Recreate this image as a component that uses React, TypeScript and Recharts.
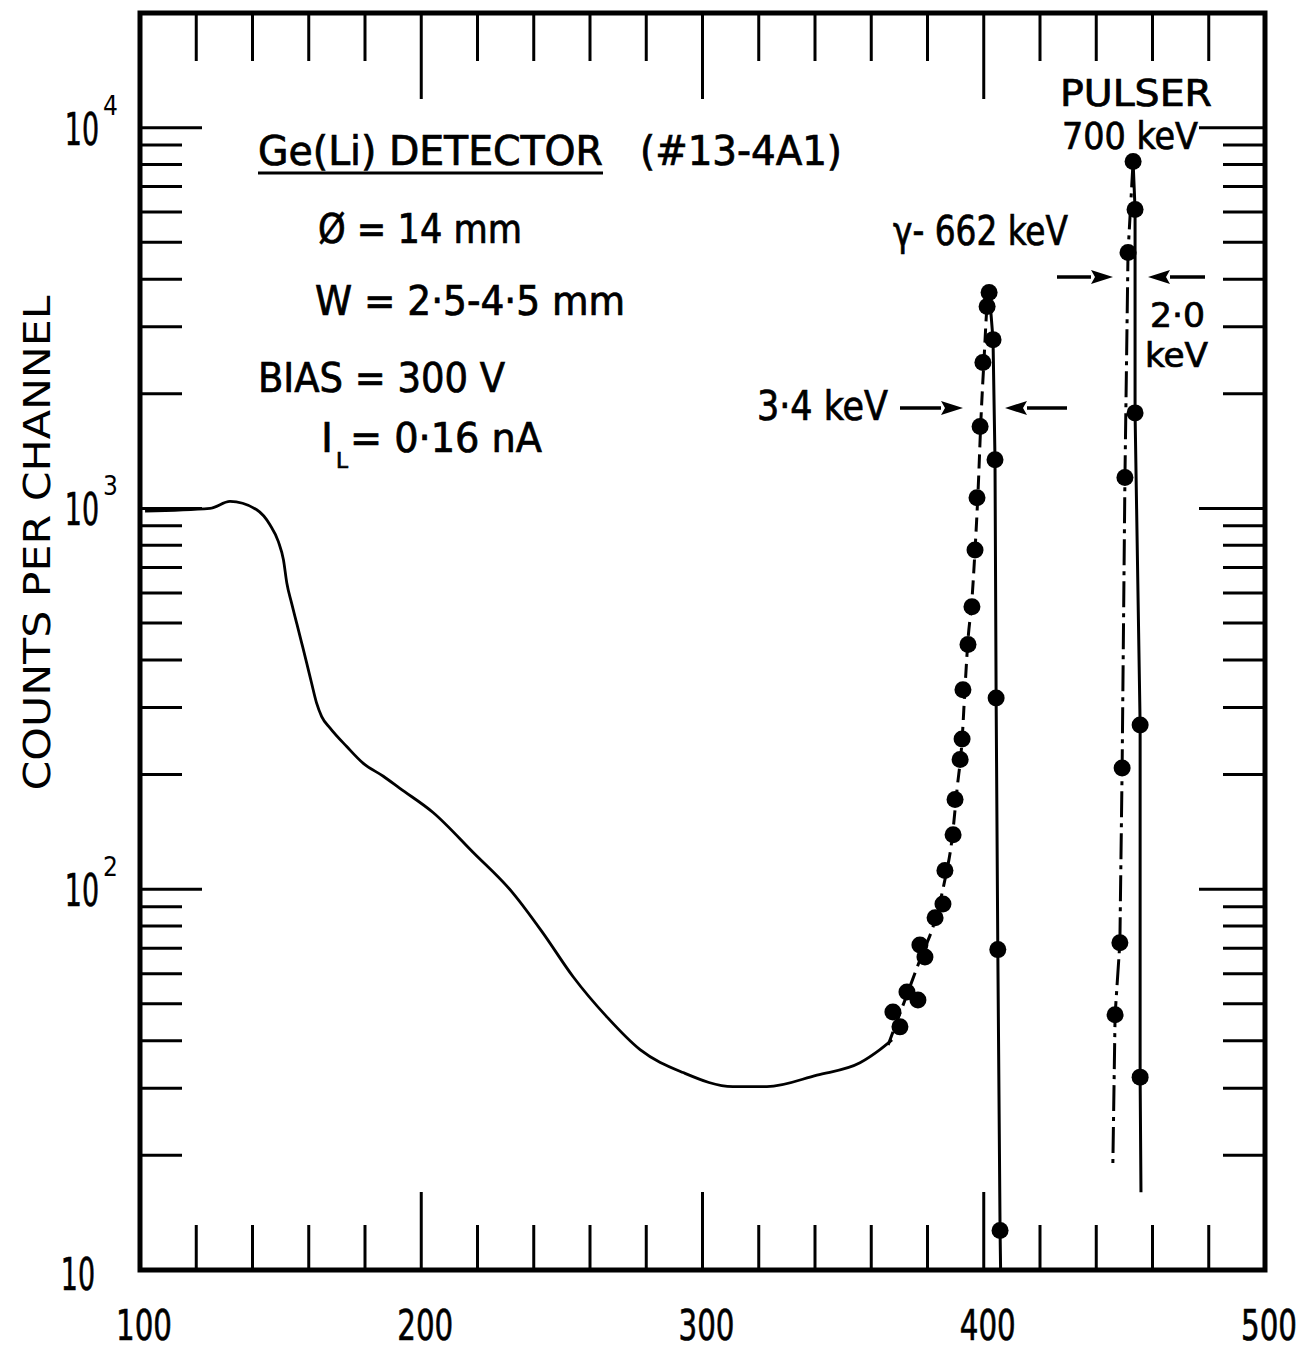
import React from 'react';
import { ComposedChart, Line, Scatter, XAxis, YAxis } from 'recharts';

// ---------- data ----------
const channelTicks = [100, 120, 140, 160, 180, 200, 220, 240, 260, 280, 300, 320, 340, 360, 380, 400, 420, 440, 460, 480, 500];
const countTicks = [
  10, 20, 30, 40, 50, 60, 70, 80, 90,
  100, 200, 300, 400, 500, 600, 700, 800, 900,
  1000, 2000, 3000, 4000, 5000, 6000, 7000, 8000, 9000,
  10000,
];

// Compton continuum (solid curve)
const continuumChannel = [101.8, 124.9, 132.0, 141.5, 146.2, 149.2, 151.0, 152.2, 153.9, 155.7, 157.5, 159.3, 161.0, 162.8, 164.6, 167.6, 173.5, 179.4, 186.5, 192.4, 204.2, 218.4, 232.6, 243.3, 254.0, 266.0, 277.8, 293.1, 310.8, 322.9, 340.7, 356.0, 363.1, 367.4];
const continuumCounts = [984, 1000, 1043, 992, 906, 818, 733, 637, 564, 500, 443, 392, 348, 308, 284, 265, 237, 214, 198, 184, 159, 125, 97.7, 76.7, 58.9, 46.2, 37.9, 33.0, 30.3, 30.3, 32.5, 35.0, 37.9, 40.2];

// gamma 662 keV peak: measured points
const gammaChannel = [370.2, 367.7, 376.6, 372.7, 379.1, 377.3, 382.7, 385.5, 386.2, 389.1, 389.8, 391.6, 392.3, 392.6, 394.4, 395.8, 396.9, 397.6, 398.7, 399.7, 401.2, 401.9, 403.3, 404.0, 404.4, 405.0, 405.8];
const gammaCounts = [43.5, 47.6, 51.2, 53.7, 66.4, 71.4, 84.1, 91.5, 112, 139, 172, 219, 248, 334, 439, 552, 778, 1066, 1641, 2415, 3389, 3690, 2775, 1343, 318, 69.4, 12.7];

// gamma peak: low side (dashed) and high side (solid) curves
const gammaLowChannel = [366.0, 372.0, 377.3, 382.7, 386.2, 388.7, 390.5, 392.3, 393.3, 394.4, 395.8, 396.9, 398.0, 399.0, 400.1, 401.2, 401.9];
const gammaLowCounts = [39.0, 51.2, 65.2, 83.0, 106, 135, 183, 247, 334, 452, 576, 778, 1119, 1711, 2461, 3428, 3750];
const gammaHighChannel = [401.9, 403.3, 404.0, 404.4, 405.0, 405.8, 406.0];
const gammaHighCounts = [3750, 2775, 1343, 318, 69.4, 12.7, 10];

// pulser 700 keV peak
const pulserChannel = [453.1, 453.8, 451.3, 453.8, 450.2, 455.6, 449.2, 448.4, 446.7, 455.6];
const pulserCounts = [8150, 6093, 4699, 1782, 1206, 270, 208, 72.3, 46.8, 32.1];
const pulserLowChannel = [453.1, 451.3, 450.2, 449.2, 448.4, 446.7, 445.9];
const pulserLowCounts = [8150, 4699, 1206, 208, 72.3, 46.8, 18.9];
const pulserHighChannel = [453.1, 453.8, 453.8, 455.6, 455.6, 455.9];
const pulserHighCounts = [8150, 6093, 1782, 270, 32.1, 16.0];

const pairs = (xs: number[], ys: number[]) => xs.map((x, i) => ({ x, y: ys[i] }));

const continuum = pairs(continuumChannel, continuumCounts);
const gammaDots = pairs(gammaChannel, gammaCounts);
const gammaLow = pairs(gammaLowChannel, gammaLowCounts);
const gammaHigh = pairs(gammaHighChannel, gammaHighCounts);
const pulserDots = pairs(pulserChannel, pulserCounts);
const pulserLow = pairs(pulserLowChannel, pulserLowCounts);
const pulserHigh = pairs(pulserHighChannel, pulserHighCounts);

// ---------- layout ----------
const W = 1314;
const H = 1351;
const MARGIN = { top: 13, right: 49, bottom: 0, left: 0 };
const Y_AXIS_W = 140;
const X_AXIS_H = 81;
const PLOT_LEFT = MARGIN.left + Y_AXIS_W;
const PLOT_RIGHT = W - MARGIN.right;
const PLOT_TOP = MARGIN.top;
const PLOT_BOTTOM = H - MARGIN.bottom - X_AXIS_H;

const FONT = "'DejaVu Sans Condensed', 'DejaVu Sans', 'Liberation Sans Narrow', sans-serif";
const INK = '#000';

const XTick = (props: any) => {
  const { x, y, payload } = props;
  const v = payload.value as number;
  const major = v % 100 === 0;
  const edge = v === 100 || v === 500;
  return (
    <g>
      {!edge && (
        <line x1={x} y1={y} x2={x} y2={y - (major ? 78 : 45)} stroke={INK} strokeWidth={3} />
      )}
      {!edge && (
        <line x1={x} y1={PLOT_TOP} x2={x} y2={PLOT_TOP + (major ? 86 : 48)} stroke={INK} strokeWidth={3} />
      )}
      {major && (
        <text x={x + 4} y={y + 70} textAnchor="middle" fontFamily={FONT} fontSize={42} textLength={56} lengthAdjust="spacingAndGlyphs" fill={INK} stroke={INK} strokeWidth={0.6}>
          {v}
        </text>
      )}
    </g>
  );
};

const YTick = (props: any) => {
  const { x, y, payload } = props;
  const v = payload.value as number;
  const lg = Math.log10(v);
  const exp = Math.round(lg);
  const major = Math.abs(lg - exp) < 1e-6;
  const baseRight = x - (exp === 1 ? 45 : 41);
  const baseY = y + (exp === 1 ? 20 : 17);
  return (
    <g>
      {v !== 10 && (
        <line x1={x} y1={y} x2={x + (major ? 62 : 42)} y2={y} stroke={INK} strokeWidth={3} />
      )}
      {v !== 10 && (
        <line x1={PLOT_RIGHT} y1={y} x2={PLOT_RIGHT - (major ? 66 : 42)} y2={y} stroke={INK} strokeWidth={3} />
      )}
      {major && (
        <text transform={`translate(${baseRight}, ${baseY}) scale(0.68, 1)`} textAnchor="end" fontFamily={FONT} fontSize={44} fill={INK} stroke={INK} strokeWidth={0.6}>
          10
        </text>
      )}
      {major && exp > 1 && (
        <text x={baseRight + 4} y={y - 13} textAnchor="start" fontFamily={FONT} fontSize={26} fill={INK}>
          {exp}
        </text>
      )}
    </g>
  );
};

const dotShape = (p: any) => <circle cx={p.cx} cy={p.cy} r={8.5} fill={INK} />;

const T = (p: { x: number; y: number; len: number; size?: number; children: React.ReactNode; anchor?: string }) => (
  <text x={p.x} y={p.y} fontFamily={FONT} fontSize={p.size ?? 40} textLength={p.len} lengthAdjust="spacingAndGlyphs" fill={INK} stroke={INK} strokeWidth={0.7} textAnchor={(p.anchor as any) ?? 'start'}>
    {p.children}
  </text>
);

const Arrow = ({ from, to, y }: { from: number; to: number; y: number }) => {
  const dir = Math.sign(to - from);
  const headLen = 22;
  const base = to - dir * headLen;
  return (
    <g>
      <line x1={from} y1={y} x2={base} y2={y} stroke={INK} strokeWidth={3.5} />
      <polygon points={`${to},${y} ${base},${y - 7} ${base + dir * 4},${y} ${base},${y + 7}`} fill={INK} />
    </g>
  );
};

const Annotations = () => (
  <svg width={W} height={H} style={{ position: 'absolute', left: 0, top: 0, pointerEvents: 'none' }}>
    {/* frame */}
    <rect x={PLOT_LEFT} y={PLOT_TOP} width={PLOT_RIGHT - PLOT_LEFT} height={PLOT_BOTTOM - PLOT_TOP} fill="none" stroke={INK} strokeWidth={5} />

    {/* y-axis title */}
    <text transform={`translate(50, 543) rotate(-90)`} textAnchor="middle" fontFamily={FONT} fontSize={38} textLength={495} lengthAdjust="spacingAndGlyphs" fill={INK}>
      COUNTS PER CHANNEL
    </text>

    {/* detector description */}
    <T x={258} y={165} len={345}>Ge(Li) DETECTOR</T>
    <line x1={258} y1={173} x2={603} y2={173} stroke={INK} strokeWidth={3} />
    <T x={640} y={165} len={202}>(#13-4A1)</T>
    <T x={318} y={243} len={204}>Ø = 14 mm</T>
    <T x={315} y={315} len={310}>W = 2·5-4·5 mm</T>
    <T x={258} y={392} len={247}>BIAS = 300 V</T>
    <T x={321} y={452} len={12}>I</T>
    <T x={336} y={468} len={12} size={22}>L</T>
    <T x={350} y={452} len={192}>= 0·16 nA</T>

    {/* pulser */}
    <T x={1060} y={106} len={152} size={37}>PULSER</T>
    <T x={1062} y={149} len={136} size={37}>700 keV</T>
    <Arrow from={1057} to={1113} y={277} />
    <Arrow from={1205} to={1148} y={277} />
    <T x={1150} y={327} len={55} size={34}>2·0</T>
    <T x={1145} y={367} len={63} size={34}>keV</T>

    {/* gamma */}
    <T x={893} y={245} len={175}>γ- 662 keV</T>
    <T x={757} y={420} len={131}>3·4 keV</T>
    <Arrow from={900} to={963} y={408} />
    <Arrow from={1067} to={1005} y={408} />
  </svg>
);

export default function App() {
  return (
    <div style={{ position: 'absolute', left: 0, top: 0, width: W, height: H, background: '#fff' }}>
      <ComposedChart width={W} height={H} margin={MARGIN}>
        <XAxis
          type="number"
          dataKey="x"
          domain={[100, 500]}
          ticks={channelTicks}
          interval={0}
          allowDataOverflow
          height={X_AXIS_H}
          axisLine={false}
          tickLine={false}
          tickSize={0}
          tickMargin={0}
          tick={<XTick />}
        />
        <YAxis
          type="number"
          dataKey="y"
          scale="log"
          domain={[10, 20000]}
          ticks={countTicks}
          interval={0}
          allowDataOverflow
          width={Y_AXIS_W}
          axisLine={false}
          tickLine={false}
          tickSize={0}
          tickMargin={0}
          tick={<YTick />}
        />
        <Line data={continuum} dataKey="y" type="monotone" stroke={INK} strokeWidth={2.8} dot={false} isAnimationActive={false} />
        <Line data={gammaLow} dataKey="y" type="monotone" stroke={INK} strokeWidth={3} strokeDasharray="14 7" dot={false} isAnimationActive={false} />
        <Line data={gammaHigh} dataKey="y" type="linear" stroke={INK} strokeWidth={3} dot={false} isAnimationActive={false} />
        <Line data={pulserLow} dataKey="y" type="linear" stroke={INK} strokeWidth={3} strokeDasharray="26 6 4 6" dot={false} isAnimationActive={false} />
        <Line data={pulserHigh} dataKey="y" type="linear" stroke={INK} strokeWidth={3} dot={false} isAnimationActive={false} />
        <Scatter data={gammaDots} dataKey="y" shape={dotShape} isAnimationActive={false} />
        <Scatter data={pulserDots} dataKey="y" shape={dotShape} isAnimationActive={false} />
      </ComposedChart>
      <Annotations />
    </div>
  );
}
